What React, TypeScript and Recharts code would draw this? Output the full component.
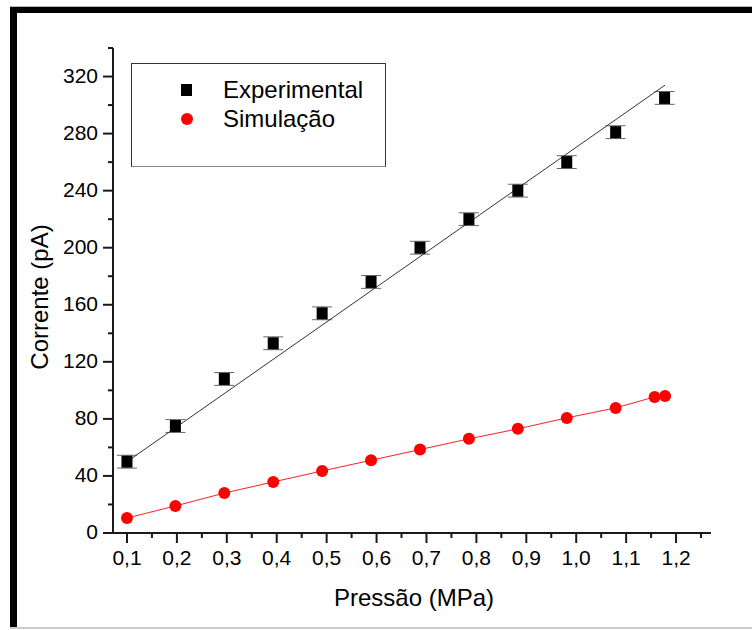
import { ComposedChart, ErrorBar, Scatter, XAxis, YAxis } from 'recharts'

// pressure (MPa) for the measured points
const expPressure = [0.1, 0.197, 0.295, 0.393, 0.491, 0.589, 0.687, 0.785, 0.883, 0.981, 1.079, 1.177]
const expCurrent = [50, 75, 108, 133, 154, 176, 200, 220, 240, 260, 281, 305]
const expError = [4.5, 4.5, 4.5, 4.5, 4.5, 4.5, 4.5, 4.5, 4.5, 4.5, 4.5, 4.5]

// straight line drawn through the measured points
const fitPressure = [0.1, 1.178]
const fitCurrent = [50, 314]

const simPressure = [0.1, 0.197, 0.295, 0.393, 0.491, 0.589, 0.687, 0.785, 0.883, 0.981, 1.079, 1.157, 1.178]
const simCurrent = [10.5, 19, 28, 35.8, 43.5, 51, 58.5, 66, 73, 80.7, 87.7, 95.4, 96]

const xMajorTicks = [0.1, 0.2, 0.3, 0.4, 0.5, 0.6, 0.7, 0.8, 0.9, 1.0, 1.1, 1.2]
const xMinorTicks = [0.15, 0.25, 0.35, 0.45, 0.55, 0.65, 0.75, 0.85, 0.95, 1.05, 1.15, 1.25]
const yMajorTicks = [0, 40, 80, 120, 160, 200, 240, 280, 320]
const yMinorTicks = [20, 60, 100, 140, 180, 220, 260, 300, 340]

const expData = expPressure.map((x, i) => ({ x, y: expCurrent[i], err: expError[i] }))
const fitData = fitPressure.map((x, i) => ({ x, y: fitCurrent[i] }))
const simData = simPressure.map((x, i) => ({ x, y: simCurrent[i] }))

const FONT = '"Liberation Sans", Arial, sans-serif'
const AXIS = '#1a1a1a'

function XTick(props: any) {
  const { x, y, payload } = props
  const major = xMajorTicks.includes(payload.value)
  return (
    <g>
      <line x1={x} y1={y} x2={x} y2={y + (major ? 10 : 5)} stroke={AXIS} strokeWidth={2} />
      {major && (
        <text x={x} y={y + 32} textAnchor="middle" fontSize={21} fontFamily={FONT} fill="#000">
          {payload.value.toFixed(1).replace('.', ',')}
        </text>
      )}
    </g>
  )
}

function YTick(props: any) {
  const { x, y, payload } = props
  const major = yMajorTicks.includes(payload.value)
  return (
    <g>
      <line x1={x} y1={y} x2={x - (major ? 10 : 5)} y2={y} stroke={AXIS} strokeWidth={2} />
      {major && (
        <text x={x - 15} y={y + 6} textAnchor="end" fontSize={21} fontFamily={FONT} fill="#000">
          {payload.value}
        </text>
      )}
    </g>
  )
}

const Square = (p: any) => <rect x={p.cx - 5.5} y={p.cy - 6} width={11} height={12} fill="#000" />
const Dot = (p: any) => <circle cx={p.cx} cy={p.cy} r={6} fill="#ff0000" />
const NoShape = () => <g />

function LegendBox() {
  const row = { display: 'flex', alignItems: 'center', height: 29 }
  return (
    <div
      style={{
        position: 'absolute',
        left: 131,
        top: 63,
        width: 255,
        height: 104,
        border: '1px solid #333',
        borderBottomColor: '#888',
        background: '#fff',
        boxSizing: 'border-box',
        paddingTop: 11,
        fontFamily: FONT,
        fontSize: 24
      }}
    >
      <div style={row}>
        <div style={{ width: 11, height: 12, background: '#000', marginLeft: 49, marginRight: 31 }} />
        Experimental
      </div>
      <div style={row}>
        <div style={{ width: 12, height: 12, borderRadius: 6, background: '#ff0000', marginLeft: 49, marginRight: 30 }} />
        Simulação
      </div>
    </div>
  )
}

export default function App() {
  return (
    <div style={{ position: 'absolute', left: 0, top: 0, width: 752, height: 630, background: '#fff', overflow: 'hidden' }}>
      <div style={{ position: 'absolute', left: 10, top: 6, width: 742, height: 1, background: '#bbb' }} />
      <div style={{ position: 'absolute', left: 10, top: 7, width: 742, height: 6, background: '#000' }} />
      <div style={{ position: 'absolute', left: 10, top: 7, width: 7, height: 620, background: '#000' }} />
      <div style={{ position: 'absolute', left: 10, top: 627, width: 742, height: 2, background: '#ccc' }} />

      <div style={{ position: 'absolute', left: 0, top: 0 }}>
        <ComposedChart width={752} height={630} margin={{ top: 48, right: 41, bottom: 57, left: 53 }}>
          <XAxis
            dataKey="x"
            type="number"
            domain={[0.072, 1.27]}
            allowDataOverflow
            ticks={[...xMajorTicks, ...xMinorTicks]}
            interval={0}
            tickLine={false}
            tickSize={0}
            tickMargin={0}
            tick={<XTick />}
            axisLine={{ stroke: AXIS, strokeWidth: 2 }}
            height={40}
          />
          <XAxis
            xAxisId="top"
            orientation="top"
            type="number"
            domain={[0.072, 1.27]}
            tick={false}
            tickLine={false}
            height={0}
            axisLine={{ stroke: AXIS, strokeWidth: 2 }}
          />
          <YAxis
            dataKey="y"
            type="number"
            domain={[0, 340]}
            allowDataOverflow
            ticks={[...yMajorTicks, ...yMinorTicks]}
            interval={0}
            tickLine={false}
            tickSize={0}
            tickMargin={0}
            tick={<YTick />}
            axisLine={{ stroke: AXIS, strokeWidth: 2 }}
            width={60}
          />
          <YAxis
            yAxisId="right"
            orientation="right"
            type="number"
            domain={[0, 340]}
            tick={false}
            tickLine={false}
            width={0}
            axisLine={{ stroke: AXIS, strokeWidth: 2 }}
          />
          <Scatter
            name="fit"
            data={fitData}
            dataKey="y"
            line={{ stroke: '#333', strokeWidth: 1 }}
            shape={NoShape}
            legendType="none"
            isAnimationActive={false}
          />
          <Scatter
            name="Simulação"
            data={simData}
            dataKey="y"
            line={{ stroke: '#ff2020', strokeWidth: 1 }}
            shape={Dot}
            isAnimationActive={false}
          />
          <Scatter name="Experimental" data={expData} dataKey="y" shape={Square} isAnimationActive={false}>
            <ErrorBar dataKey="err" direction="y" width={10} stroke="#666" strokeWidth={1} />
          </Scatter>
        </ComposedChart>
      </div>

      <LegendBox />

      <div
        style={{
          position: 'absolute',
          left: 414,
          top: 584,
          transform: 'translateX(-50%)',
          whiteSpace: 'nowrap',
          fontFamily: FONT,
          fontSize: 24
        }}
      >
        Pressão (MPa)
      </div>
      <div
        style={{
          position: 'absolute',
          left: 40,
          top: 297,
          transform: 'translate(-50%, -50%) rotate(-90deg)',
          whiteSpace: 'nowrap',
          fontFamily: FONT,
          fontSize: 24
        }}
      >
        Corrente (pA)
      </div>
    </div>
  )
}
